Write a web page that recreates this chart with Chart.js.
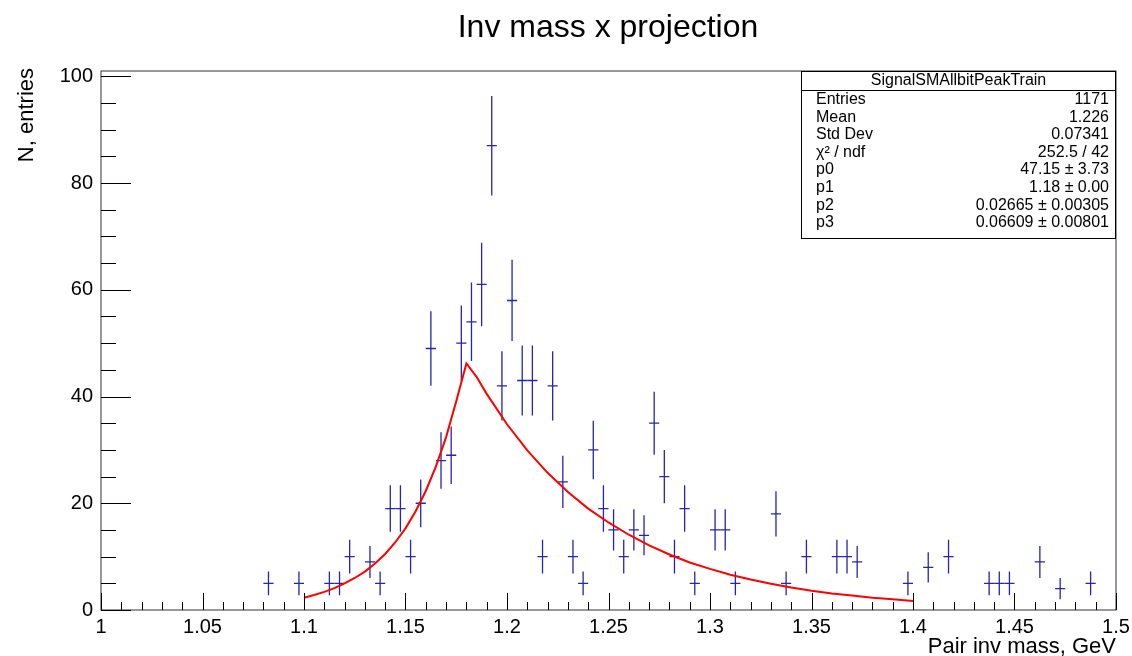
<!DOCTYPE html>
<html>
<head>
<meta charset="utf-8">
<script src="https://cdn.jsdelivr.net/npm/chart.js@4/dist/chart.umd.min.js"></script>
<style>
  html, body { margin: 0; padding: 0; background: #fff; }
  canvas { display: block; }
</style>
</head>
<body>
<canvas id="invMassChart" width="1132" height="656"></canvas>
<script>
// --- Dados do histograma (centros dos bins e contagens) ---
const binWidth = 0.005;
const binCenters = [
    1.0825, 1.0975, 1.1125, 1.1175, 1.1225, 1.1325, 1.1375, 1.1425, 1.1475, 1.1525,
    1.1575, 1.1625, 1.1675, 1.1725, 1.1775, 1.1825, 1.1875, 1.1925, 1.1975, 1.2025,
    1.2075, 1.2125, 1.2175, 1.2225, 1.2275, 1.2325, 1.2375, 1.2425, 1.2475, 1.2525,
    1.2575, 1.2625, 1.2675, 1.2725, 1.2775, 1.2825, 1.2875, 1.2925, 1.3025, 1.3075,
    1.3125, 1.3325, 1.3375, 1.3475, 1.3625, 1.3675, 1.3725, 1.3975, 1.4075, 1.4175,
    1.4375, 1.4425, 1.4475, 1.4625, 1.4725, 1.4875
];
const counts = [
    5, 5, 5, 5, 10, 9, 5, 19, 19, 10,
    20, 49, 28, 29, 50, 54, 61, 87, 42, 58,
    43, 43, 10, 42, 24, 10, 5, 30, 19, 15,
    10, 15, 14, 35, 25, 10, 19, 5, 15, 15,
    5, 18, 5, 10, 10, 10, 9, 5, 8, 10,
    5, 5, 5, 9, 4, 5
];

// --- Curva do ajuste ---
const fitX = [
    1.100, 1.105, 1.110, 1.115, 1.120, 1.125, 1.130, 1.135, 1.140, 1.145,
    1.150, 1.155, 1.160, 1.165, 1.170, 1.175, 1.180, 1.185, 1.190,
    1.20, 1.21, 1.22, 1.23, 1.24, 1.25, 1.26, 1.27, 1.28, 1.29, 1.30,
    1.31, 1.32, 1.33, 1.34, 1.35, 1.36, 1.37, 1.38, 1.39, 1.40
];
const fitY = [
    2.3, 2.8, 3.4, 4.1, 5.0, 6.0, 7.2, 8.7, 10.5, 12.7,
    15.3, 18.5, 22.3, 26.9, 32.4, 39.1, 46.2, 43.7, 40.5,
    34.8, 29.9, 25.7, 22.1, 19.0, 16.4, 14.1, 12.1, 10.4, 8.9, 7.7,
    6.6, 5.7, 4.9, 4.2, 3.6, 3.1, 2.7, 2.3, 2.0, 1.7
];

// --- Eixos ---
const xTicks = [1, 1.05, 1.1, 1.15, 1.2, 1.25, 1.3, 1.35, 1.4, 1.45, 1.5];
const xTickLabels = ['1', '1.05', '1.1', '1.15', '1.2', '1.25', '1.3', '1.35', '1.4', '1.45', '1.5'];
const yTicks = [0, 20, 40, 60, 80, 100];
const yTickLabels = ['0', '20', '40', '60', '80', '100'];

// --- Caixa de estatísticas ---
const statsTitle = 'SignalSMAllbitPeakTrain';
const statsLabels = ['Entries', 'Mean', 'Std Dev', 'χ² / ndf', 'p0', 'p1', 'p2', 'p3'];
const statsValues = ['1171', '1.226', '0.07341', '252.5 / 42', '47.15 ± 3.73', '1.18 ± 0.00',
    '0.02665 ± 0.00305', '0.06609 ± 0.00801'];

const chartTitle = 'Inv mass x projection';
const xTitle = 'Pair inv mass, GeV';
const yTitle = 'N, entries';

const FONT = "'Liberation Sans', Arial, Helvetica, sans-serif";
const histColor = '#2626a6';

// --- Barras de erro (cruzes estilo ROOT) ---
const errorBars = {
    id: 'errorBars',
    beforeDatasetsDraw(chart) {
        const { ctx, scales: { x, y } } = chart;
        const meta = chart.getDatasetMeta(0);
        ctx.save();
        ctx.strokeStyle = histColor;
        ctx.lineWidth = 1.3;
        meta.data.forEach((pt, i) => {
            const n = counts[i];
            const err = Math.sqrt(n);
            ctx.beginPath();
            ctx.moveTo(x.getPixelForValue(binCenters[i] - binWidth / 2), pt.y);
            ctx.lineTo(x.getPixelForValue(binCenters[i] + binWidth / 2), pt.y);
            ctx.moveTo(pt.x, y.getPixelForValue(n - err));
            ctx.lineTo(pt.x, y.getPixelForValue(n + err));
            ctx.stroke();
        });
        ctx.restore();
    }
};

// --- Moldura, ticks internos, títulos e caixa de estatísticas ---
const rootDecor = {
    id: 'rootDecor',
    afterDraw(chart) {
        const { ctx, chartArea: a, scales: { x, y } } = chart;
        ctx.save();

        // moldura
        ctx.strokeStyle = '#333';
        ctx.lineWidth = 1;
        ctx.strokeRect(a.left, a.top, a.right - a.left, a.bottom - a.top);

        // ticks do eixo x (para dentro)
        ctx.strokeStyle = '#000';
        ctx.beginPath();
        for (let k = 0; k <= 50; k++) {
            const v = 1 + k * 0.01;
            const px = Math.round(x.getPixelForValue(v)) + 0.5;
            const len = (k % 5 === 0) ? 17 : 8;
            ctx.moveTo(px, a.bottom);
            ctx.lineTo(px, a.bottom - len);
        }
        // ticks do eixo y
        for (let k = 0; k <= 20; k++) {
            const v = k * 5;
            const py = Math.round(y.getPixelForValue(v)) + 0.5;
            const len = (k % 4 === 0) ? 30 : 15;
            ctx.moveTo(a.left, py);
            ctx.lineTo(a.left + len, py);
        }
        ctx.stroke();

        // título
        ctx.fillStyle = '#000';
        ctx.font = `32px ${FONT}`;
        ctx.textAlign = 'center';
        ctx.textBaseline = 'alphabetic';
        ctx.fillText(chartTitle, 608, 37);

        // título eixo x
        ctx.font = `22px ${FONT}`;
        ctx.textAlign = 'right';
        ctx.fillText(xTitle, a.right, 653);

        // título eixo y
        ctx.save();
        ctx.translate(33, 68);
        ctx.rotate(-Math.PI / 2);
        ctx.textAlign = 'right';
        ctx.fillText(yTitle, 0, 0);
        ctx.restore();

        // caixa de estatísticas
        const bx = 801, by = 71, bw = a.right - 801, bh = 167;
        ctx.fillStyle = '#fff';
        ctx.fillRect(bx, by, bw, bh);
        ctx.strokeStyle = '#000';
        ctx.strokeRect(bx + 0.5, by + 0.5, bw - 1, bh);
        ctx.beginPath();
        ctx.moveTo(bx, 90.5);
        ctx.lineTo(bx + bw, 90.5);
        ctx.stroke();

        ctx.fillStyle = '#000';
        ctx.font = `16px ${FONT}`;
        ctx.textBaseline = 'middle';
        ctx.textAlign = 'center';
        ctx.fillText(statsTitle, bx + bw / 2, 81);
        const rowH = 17.6;
        statsLabels.forEach((lab, i) => {
            const ty = 99.5 + i * rowH;
            ctx.textAlign = 'left';
            ctx.fillText(lab, 816, ty);
            ctx.textAlign = 'right';
            ctx.fillText(statsValues[i], bx + bw - 7, ty);
        });

        ctx.restore();
    }
};

const ctx = document.getElementById('invMassChart');
const invMassChart = new Chart(ctx, {
    type: 'scatter',
    data: {
        datasets: [
            {
                label: 'histograma',
                data: binCenters.map((c, i) => ({ x: c, y: counts[i] })),
                pointRadius: 0,
                showLine: false
            },
            {
                type: 'line',
                label: 'ajuste',
                data: fitX.map((v, i) => ({ x: v, y: fitY[i] })),
                borderColor: '#ff0000',
                borderWidth: 2,
                pointRadius: 0,
                tension: 0,
                fill: false
            }
        ]
    },
    options: {
        responsive: false,
        animation: false,
        events: [],
        layout: { padding: { left: 0, top: 71, right: 16, bottom: 0 } },
        plugins: { legend: { display: false }, tooltip: { enabled: false } },
        scales: {
            x: {
                type: 'linear',
                min: 1,
                max: 1.5,
                grid: { display: false, drawTicks: false, tickLength: 0 },
                border: { display: false },
                afterBuildTicks: s => { s.ticks = xTicks.map(v => ({ value: v })); },
                afterFit: s => { s.height = 46; s.paddingLeft = 0; s.paddingRight = 0; },
                ticks: {
                    font: { family: FONT, size: 20 },
                    color: '#000',
                    padding: 5,
                    maxRotation: 0,
                    autoSkip: false,
                    callback: (v, i) => xTickLabels[i]
                }
            },
            y: {
                min: 0,
                max: 101,
                grid: { display: false, drawTicks: false, tickLength: 0 },
                border: { display: false },
                afterBuildTicks: s => { s.ticks = yTicks.map(v => ({ value: v })); },
                afterFit: s => { s.width = 101; s.paddingTop = 0; s.paddingBottom = 0; },
                ticks: {
                    font: { family: FONT, size: 20 },
                    color: '#000',
                    padding: 8,
                    autoSkip: false,
                    callback: (v, i) => yTickLabels[i]
                }
            }
        }
    },
    plugins: [errorBars, rootDecor]
});
</script>
</body>
</html>
